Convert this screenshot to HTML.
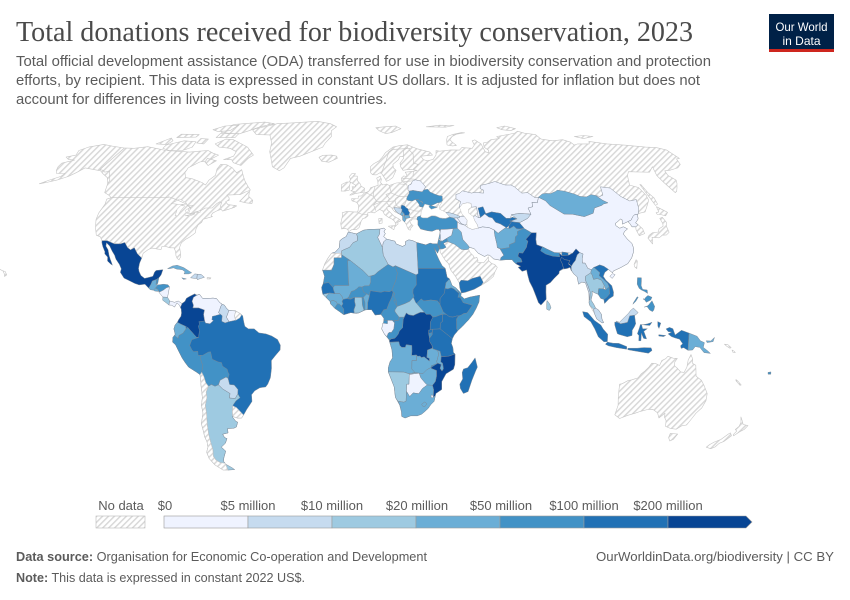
<!DOCTYPE html>
<html><head><meta charset="utf-8">
<style>html,body{margin:0;padding:0;background:#fff;}svg{display:block}</style>
</head>
<body>
<svg id="s" width="850" height="600" viewBox="0 0 850 600" xmlns="http://www.w3.org/2000/svg">
<defs>
<pattern id="h" patternUnits="userSpaceOnUse" width="4.2" height="4.2" patternTransform="rotate(45)">
<rect width="4.2" height="4.2" fill="#fff"/><rect width="1.5" height="4.2" fill="#d8d8d8"/>
</pattern>
</defs>
<rect width="850" height="600" fill="#fff"/>
<g id="map"></g>

<text x="16" y="41" font-family="Liberation Serif, serif" font-size="28" fill="#4a4a4a" textLength="677" lengthAdjust="spacingAndGlyphs">Total donations received for biodiversity conservation, 2023</text>
<g font-family="Liberation Sans, sans-serif" font-size="14.5" fill="#5b5b5b">
<text x="16" y="66" textLength="695" lengthAdjust="spacingAndGlyphs">Total official development assistance (ODA) transferred for use in biodiversity conservation and protection</text>
<text x="16" y="85" textLength="684" lengthAdjust="spacingAndGlyphs">efforts, by recipient. This data is expressed in constant US dollars. It is adjusted for inflation but does not</text>
<text x="16" y="104" textLength="371" lengthAdjust="spacingAndGlyphs">account for differences in living costs between countries.</text>
</g>

<rect x="769" y="14" width="65" height="38" fill="#002147"/>
<rect x="769" y="49" width="65" height="3" fill="#ce261e"/>
<g font-family="Liberation Sans, sans-serif" font-size="12" fill="#fff" text-anchor="middle">
<text x="801.5" y="31" textLength="52" lengthAdjust="spacingAndGlyphs">Our World</text>
<text x="801.5" y="45" textLength="38" lengthAdjust="spacingAndGlyphs">in Data</text>
</g>

<g font-family="Liberation Sans, sans-serif" font-size="13" fill="#5b5b5b" text-anchor="middle">
<text x="121" y="510">No data</text>
<text x="165" y="510">$0</text>
<text x="248" y="510">$5 million</text>
<text x="332" y="510">$10 million</text>
<text x="417" y="510">$20 million</text>
<text x="501" y="510">$50 million</text>
<text x="584" y="510">$100 million</text>
<text x="668" y="510">$200 million</text>
</g>
<rect x="96" y="516" width="49" height="12" fill="url(#h)" stroke="#bbb" stroke-width="0.6"/>
<g stroke="#9a9a9a" stroke-width="0.6">
<rect x="164" y="516" width="84" height="12" fill="#eff3ff"/>
<rect x="248" y="516" width="84" height="12" fill="#c6dbef"/>
<rect x="332" y="516" width="84" height="12" fill="#9ecae1"/>
<rect x="416" y="516" width="84" height="12" fill="#6baed6"/>
<rect x="500" y="516" width="84" height="12" fill="#4292c6"/>
<rect x="584" y="516" width="84" height="12" fill="#2171b5"/>
<polygon points="668,516 746,516 752,522 746,528 668,528" fill="#084594"/>
</g>

<g font-family="Liberation Sans, sans-serif" font-size="13" fill="#5b5b5b">
<text x="16" y="561" textLength="411" lengthAdjust="spacingAndGlyphs"><tspan font-weight="bold">Data source:</tspan> Organisation for Economic Co-operation and Development</text>
<text x="16" y="582" textLength="289" lengthAdjust="spacingAndGlyphs"><tspan font-weight="bold">Note:</tspan> This data is expressed in constant 2022 US$.</text>
<text x="834" y="561" text-anchor="end" textLength="238" lengthAdjust="spacingAndGlyphs">OurWorldinData.org/biodiversity | CC BY</text>
</g>
</svg>
<script>
(function(){
var RT=[[0,1,0],[5,.9986,.062],[10,.9954,.124],[15,.99,.186],[20,.9822,.248],[25,.973,.31],[30,.96,.372],[35,.9427,.434],[40,.9216,.4958],[45,.8962,.5571],[50,.8679,.6176],[55,.835,.6769],[60,.7986,.7346],[65,.7597,.7903],[70,.7186,.8435],[75,.6732,.8936],[80,.6213,.9394],[85,.5722,.9761],[90,.5322,1]];
function P(lon,lat){var a=Math.abs(lat);var i=Math.min(17,Math.floor(a/5));var t=(a-i*5)/5;
var X=RT[i][1]+(RT[i+1][1]-RT[i][1])*t;var Y=RT[i][2]+(RT[i+1][2]-RT[i][2])*t;
return [361.2+2.327*X*lon,326.3-212.4*Y*(lat<0?-1:1)];}
function path(pts,close){var s='';for(var i=0;i<pts.length;i++){var p=P(pts[i][0],pts[i][1]);s+=(i?'L':'M')+p[0].toFixed(1)+' '+p[1].toFixed(1);}return s+(close?'Z':'');}
var C={h:'url(#h)',c0:'#eff3ff',c1:'#c6dbef',c2:'#9ecae1',c3:'#6baed6',c4:'#4292c6',c5:'#2171b5',c6:'#084594',w:'#fff'};
var F=[
// ---------- NO DATA: North America ----------
['h',[[-166,68.5],[-163,70],[-156.5,71.3],[-150,70.5],[-141,69.6],[-135,69.5],[-128,70.2],[-120,69.2],[-115,68.5],[-108,68.2],[-100,67.8],[-95,68.2],[-90,68.5],[-86,67.3],[-82,66.5],[-86,64],[-90,63.5],[-94,61],[-94,59],[-92,57],[-88,56.5],[-82,55],[-79.5,54],[-79,56],[-77,58],[-78,60.5],[-77.5,62.5],[-74,62.3],[-70,61],[-66.5,59],[-64.5,60.3],[-62,57.5],[-60,55.5],[-57,53],[-55.7,52],[-57.5,51.4],[-60,50.2],[-66.5,50],[-65,49],[-64.5,48],[-66,47.5],[-64.5,46.3],[-61,46],[-60,45.8],[-61,45.2],[-63.5,44.5],[-66,43.8],[-67,44.5],[-69,43.8],[-70.5,43],[-70.8,42],[-70,41.7],[-71.5,41.3],[-74,40.6],[-74.2,39.5],[-75.5,38.5],[-76,37],[-75.8,35.5],[-76.6,34.8],[-78,33.8],[-79.5,33],[-81,31.7],[-81.3,30],[-80.5,28],[-80,26.5],[-80.5,25.2],[-81.5,25.8],[-82.2,26.8],[-82.8,28.5],[-83.8,29.8],[-85.5,29.8],[-88,30.4],[-89.3,30.3],[-89.4,29.2],[-91,29.3],[-93.5,29.7],[-95,29.2],[-97,27.7],[-97.2,25.9],[-99.5,27.5],[-101.5,29.8],[-103,29],[-104.6,29.9],[-106.5,31.8],[-108.2,31.3],[-111,31.3],[-114.8,32.5],[-117.1,32.5],[-118.5,34],[-120.6,34.6],[-122.5,37.5],[-124,40.5],[-124.5,43],[-124,46.5],[-124.7,48.4],[-123,49],[-125,50],[-128,51],[-130,54.5],[-133,57],[-137,58.5],[-140,59.8],[-146,60.5],[-150,61],[-152,59],[-154,57.5],[-158,56],[-162,55],[-165,54.5],[-162,56],[-158,57.5],[-157.5,58.7],[-162,58.7],[-164,60],[-165.5,61.5],[-166,63],[-161,64.3],[-165,64.6],[-168,65.6],[-164,66.5]]],
['h',[[-80,73.5],[-73,71.5],[-68,70],[-62,66.5],[-64,65],[-66,62],[-71,63.2],[-73,64.5],[-77.5,64.5],[-73,66],[-73,68],[-78,69.5],[-85,70],[-89,71.5],[-85,73.8]]],
['h',[[-118,71],[-110,73],[-102,72.5],[-101,70],[-105,68.5],[-113,68.5],[-118,69.5]]],
['h',[[-125,71.5],[-120,74.3],[-117,73],[-118,71.2]]],
['h',[[-92,77],[-80,76.2],[-75,78],[-70,80],[-62,82],[-70,83],[-90,81.5],[-94,79]]],
['h',[[-92,76.5],[-80,76.5],[-80,74.5],[-92,74.5]]],
['h',[[-101,74],[-96,73.8],[-96,71.5],[-101,72]]],
['h',[[-117,76.2],[-105,76],[-105,74.7],[-117,74.5]]],
['h',[[-100,78.5],[-95,80.5],[-86,81],[-88,78],[-95,77.5]]],
['h',[[-87,65],[-81,64],[-84,62],[-87,63.5]]],
['h',[[-59.3,47.6],[-56,51.6],[-55.5,49.5],[-53,48],[-53,46.7],[-56,47]]],
['h',[[-160,22.2],[-159.3,21.9],[-157.5,21.2],[-156,20.8],[-155,19.5],[-155.8,18.9],[-156,19.8],[-157,21]]],
// Greenland, Iceland, Svalbard
['h',[[-73,78.3],[-68,76],[-59,75.8],[-55,72],[-53.5,68],[-51,65],[-48.5,61.5],[-44,59.8],[-42,61],[-40,65],[-35,66],[-23,70],[-22,72],[-19,75],[-20,78],[-17,80],[-22,82],[-32,83.5],[-50,82.5],[-60,82],[-65,80.5],[-72,79]]],
['h',[[-24,65.5],[-22,66.4],[-17,66.5],[-14,66],[-13.5,65],[-18,63.4],[-22,63.8]]],
['h',[[10,79.5],[16,80],[24,80.4],[27,79],[20,77],[16,76.5],[12,78]]],
['h',[[45,80],[55,81],[65,80.8],[58,79.8]]],
['h',[[52,71],[55,70.6],[57.5,70.8],[56,72.5],[55.5,73.5],[58,75],[62,76.2],[68,76.9],[66,77],[59,76],[55,75],[53.5,73.5],[52.5,72]]],
['h',[[93,79.5],[100,80.5],[105,79],[100,78],[95,78.5]]],
['h',[[136,75],[143,75.5],[148,75],[140,74]]],
// Eurasia base
['h',[[-9,37],[-9.5,39],[-8.8,42],[-9,43.2],[-7,43.6],[-2,43.4],[-1.5,44],[-1.2,46],[-2.2,47.2],[-4.5,47.8],[-4.7,48.6],[-1.5,48.7],[-1.4,49.6],[0.2,49.7],[1.6,50.9],[3,51.2],[4,51.8],[4.8,53],[7,53.5],[8.6,53.9],[8.6,55.5],[8.1,56.8],[10,57.6],[10.5,56.3],[10,55],[11,54],[13,54.4],[14.3,53.8],[18,54.8],[21,55],[21,56.8],[22.5,57.7],[24,57.3],[24,58.4],[23.5,59.2],[28,59.6],[30,60],[26,60.4],[22.5,60],[21.5,61.5],[21.5,63],[24,65],[24,65.9],[22,65.8],[21,64.5],[17.5,62.5],[17.5,61],[18.8,60],[16.5,57],[14.5,56],[13,55.5],[12.5,56.5],[11,58.5],[10,59],[8,58.1],[6,58.2],[5,59],[5,61.5],[7,62.8],[10,64],[12,65.5],[14,67.5],[16,68.5],[19,70],[23,70.7],[28,71.1],[31,70],[33,69.3],[40,67.8],[41,66.5],[34,66],[35,64.5],[37,64],[40.5,64.6],[43,66.5],[44,68.5],[46,68.2],[53,68.8],[58,68.7],[60,69.8],[66,69.5],[68.5,71],[69,73],[71,73.4],[73,71.5],[72.5,68],[74,67.5],[75,68.5],[73.5,70],[75,72],[78,72.4],[81,73.5],[87,74],[86.5,75],[95,76],[101,76.8],[104,77.7],[107,76.7],[113,76],[113,73.8],[119,73],[126,73.5],[129,72.3],[129,71],[132,71.5],[139,71.5],[141,72.7],[150,71.5],[160,70.9],[170,70],[176,69.8],[180,68.8],[180,65],[178,64.8],[176,62.5],[172,61],[166,60],[163,59.8],[162,58],[163.5,56],[162,54.6],[160,53],[158,51.5],[156.7,51],[155.8,55],[156,57.8],[159,61.5],[154,59.2],[148,59.3],[143,59.4],[140.5,57.8],[137,54],[140.5,53],[141,50],[140.5,48],[138,46],[135,43.5],[132,43],[130.6,42.5],[129.7,40.8],[128.5,40],[127.5,39.3],[128.3,38.6],[129.5,37],[129.3,35.2],[126.5,34.4],[126.2,36.6],[126.7,37.8],[125,37.8],[124.8,38.8],[124.3,39.8],[121.2,38.8],[122,40.5],[121.5,40.8],[119.5,39.8],[118,39.1],[117.8,38.2],[119,37.2],[121,37.8],[122.5,37],[120.5,36],[119.5,35],[120.5,33],[121.8,31.5],[121.8,30],[121.5,28.5],[119.8,26],[117.5,23.8],[114,22.3],[110.5,21],[110,20.3],[108.5,21.6],[106.7,20.5],[105.7,19],[106.6,17.5],[108.8,15.4],[109.3,13],[109,11.5],[107,10.4],[105,8.7],[104.8,10.2],[103.5,10.6],[102.5,12.2],[100.9,12.8],[100,13.4],[100,12],[99.2,10],[100.3,8.3],[101,6.9],[102.2,6.2],[103.4,4.5],[103.5,2.8],[104.2,1.4],[103.5,1.3],[101.3,2.8],[100.3,5],[98.5,8],[98.3,9],[98.6,12.7],[97.6,16.5],[96,16.8],[94.5,16],[94.3,18.8],[93,19.9],[92,21.5],[91.8,22.4],[90.5,22],[89,21.8],[86.9,21],[86.5,20],[84.5,18.5],[82.3,16.6],[80.3,15.6],[80,13],[79.9,10.3],[78,8.5],[77.5,8.1],[76.5,9],[75.5,11.7],[74.5,14.5],[73.3,17],[72.8,19.5],[72.6,21.4],[70.5,20.9],[69,22.4],[70.2,22.8],[68.5,23.6],[67.3,24.5],[66.7,25.3],[64,25.3],[61.5,25.1],[58.6,25.6],[57,27],[56,27.1],[54.7,26.5],[52,27.8],[50.5,29.5],[48.5,30],[47.8,29.6],[48.5,28],[49.7,26.8],[50.2,25.8],[51.2,26.2],[51.6,25],[51.4,24.3],[54,24.1],[55.6,25.6],[56.4,26.4],[56.3,24.9],[57.5,23.8],[58.8,23.5],[59.8,22.4],[58.5,20.5],[57.8,19],[56.3,17.9],[55,17],[52.2,15.6],[49,14.1],[45,12.9],[43.4,12.7],[42.8,14.7],[42.7,16.5],[41.2,19],[39.2,21.5],[38.5,23.8],[37.2,25],[35.3,28],[34.9,29.5],[34.3,31.3],[35,33],[35.9,35.2],[36,36.8],[34.6,36.8],[32.5,36.1],[30.5,36.3],[29,36.6],[27.3,37],[26.3,38.5],[26.5,40.2],[26.1,40.6],[26,40.8],[24,40.8],[23.5,40.2],[22.6,40.3],[23,39],[24,38.2],[23,37.5],[22.5,36.5],[21.7,36.8],[21.2,37.8],[21,38.6],[20.2,39.6],[19.4,40.4],[19.5,41.8],[18.5,42.5],[16,43.5],[15.2,44.3],[14.5,45.2],[13.7,45.6],[12.3,45.3],[12.5,44.2],[13.6,43.5],[15.3,41.9],[18,40.6],[18.5,40.1],[17,39.5],[17.1,38.9],[16.5,38.5],[15.7,37.9],[16,39],[15.5,40],[14.3,40.8],[13,41.3],[11,42.5],[10.2,43.9],[8.8,44.4],[7.5,43.8],[6.2,43.1],[4.5,43.4],[3.1,43.1],[3.2,42],[2,41.2],[0.8,41],[0,40],[-0.5,38.5],[-1,37.5],[-2.2,36.7],[-4.4,36.7],[-5.6,36],[-6.5,36.9],[-7.5,37.2]]],
['h',[[-5,50],[-3,50.6],[1.4,51.2],[1.7,52.7],[0,53.5],[-0.5,54.5],[-2,55.8],[-2,57.6],[-4,57.7],[-3,58.6],[-5,58.6],[-6.2,57.5],[-5.6,56.3],[-6,55.3],[-4.8,54.8],[-3,54],[-3,53.3],[-4.6,53.3],[-4.2,52.2],[-5.2,51.7],[-3.3,51.4],[-5.7,50]]],
['h',[[-6,52],[-6,53.5],[-5.5,55.2],[-7.5,55.2],[-10,54.2],[-10,51.6],[-8,51.6]]],
['h',[[12.5,38],[15.6,38.3],[15,36.7]]],
['h',[[8.3,39],[9.7,39.2],[9.8,41],[8.2,40.9]]],
['h',[[130,33.5],[131,31.3],[131.5,32],[132,33.8],[135,33.6],[136,34],[137,34.6],[139,34.7],[140.8,35.7],[141,38],[142,39.5],[141.5,41.4],[140,41],[140,39],[139.5,38],[137,37],[136,35.8],[133,35.5],[131,34.5]]],
['h',[[140,42.5],[141.5,42.5],[143.5,42],[145.5,43.3],[144,44.3],[142,45.5],[141.5,43.5],[140,43.2]]],
['h',[[142,46],[143.5,46.5],[144,49],[143,51],[143,54.2],[142.5,54.2],[142,51],[142,47]]],
['h',[[120.2,22.6],[121,21.9],[121.9,24.8],[121.5,25.3],[120.2,23.5]]],
// Australia, NZ
['h',[[113.5,-22],[114,-26.5],[115,-30],[115,-33.6],[117.8,-35],[121,-33.8],[124,-33],[126,-32.3],[129,-31.6],[131.2,-31.5],[134,-32.8],[135.6,-34.8],[137.5,-33],[138,-34.5],[139.5,-35.8],[140.6,-38],[143.5,-38.8],[146.3,-39.1],[148,-37.8],[150,-37.5],[150.7,-35],[151.5,-33],[153,-31],[153.6,-28.2],[153,-25.5],[150.8,-22.6],[149,-20.5],[146.3,-19],[145.5,-16],[145.2,-14.8],[143.6,-14],[143.5,-12.5],[142.5,-10.7],[141.6,-12.8],[141.5,-15.5],[140.7,-17.5],[139.2,-17.3],[137.5,-16],[136,-15],[135.9,-13.5],[136.8,-12.2],[135,-12.1],[132.6,-11.4],[131.8,-12.3],[130.2,-13],[129.5,-14.9],[127.8,-14.2],[126,-14],[125,-15.5],[123.5,-17],[122.2,-18],[121,-19.6],[118.5,-20.3],[116.7,-20.7],[114.6,-21.8]]],
['h',[[144.7,-40.7],[148.3,-40.9],[148,-43],[146.8,-43.6],[145.2,-42.3]]],
['h',[[172.7,-34.4],[174.5,-36],[175.9,-37.3],[178.5,-37.7],[177.9,-39.2],[176.8,-39.9],[175.2,-41.6],[174.6,-41.2],[175,-39.8],[173.8,-39.2],[174.6,-38],[174.3,-36.5]]],
['h',[[172.7,-40.5],[174.2,-41.6],[173.3,-43],[172.7,-43.8],[171.2,-44.5],[170.7,-45.9],[169.3,-46.6],[166.5,-46],[167,-45],[168.4,-44],[170.6,-43],[171.5,-41.8],[172.1,-40.9]]],
['h',[[164,-20.2],[165,-20.8],[167,-22.3],[166.5,-22.4],[164.2,-20.7]]],
['h',[[156.5,-6.8],[157.5,-7.5],[159,-8.3],[159.5,-8.1],[158,-7]]],
['h',[[160,-9],[161,-9.5],[161.5,-10],[160.5,-9.9]]],
// ---------- AFRICA ----------
['c4',[[-5.9,35.8],[-2.2,35.1],[1,36.5],[3.5,36.8],[8.6,36.9],[10.3,37.3],[11.1,36.8],[10.4,36],[11,35.2],[10.2,34.1],[11.5,33.1],[15.2,32.3],[15.7,31.3],[18.5,30.3],[20,31],[20,32.2],[21.5,32.8],[23,32.6],[25,31.8],[29,30.9],[31,31.6],[32.3,31.3],[34.2,31.3],[34.9,29.5],[34,27.8],[32.6,29.9],[33.5,27.2],[34.5,25],[35.6,23],[36.9,22],[37.5,18.6],[38.5,18],[39.5,15.5],[41.2,14.5],[43.3,12.5],[43.1,11.5],[44.5,10.4],[47,11.1],[51.2,11.8],[51,10.5],[50.8,9.2],[49.5,6.8],[48,4.5],[46,2.3],[43.5,0],[41.5,-1.7],[40,-3.3],[39.2,-4.7],[38.8,-6.5],[39.5,-8],[39.8,-10],[40.5,-10.5],[40.6,-14.5],[40.1,-16.3],[37,-18],[35.3,-21],[35.5,-24],[33,-25.5],[32.8,-26.5],[32.5,-28.5],[31,-29.9],[30,-31.3],[27.5,-33.3],[25.5,-34],[22.5,-34],[20,-34.8],[18.4,-34.2],[18.2,-32.5],[17.3,-30],[15.2,-27],[14.5,-23],[13.5,-20.9],[11.8,-17.3],[11.8,-15.8],[12.5,-13.5],[13.6,-12],[13.3,-9],[12.3,-6.1],[12.2,-5.8],[11.9,-5],[10,-3],[8.8,-1],[9.5,1],[9.8,3],[8.5,4.5],[6,4.3],[4.5,6.3],[2,6.3],[-1,5.1],[-2.2,4.9],[-4.5,5.2],[-7.5,4.4],[-9.5,5.7],[-11.5,6.9],[-13.2,8.5],[-13.5,9.5],[-15,10.8],[-16.6,12.2],[-17.2,14.7],[-16.5,16.3],[-16,19],[-16.9,21.3],[-16,23.8],[-14.6,26],[-13.2,27.7],[-11.5,28.2],[-9.8,29.9],[-9.6,32.5],[-8.5,33.3],[-6.8,34.1]]],
['c1',[[-5.9,35.8],[-2.2,35.1],[-1.7,34.1],[-1.7,32.5],[-3.7,31.7],[-5.2,30],[-8.7,28.7],[-8.7,27.7],[-13.2,27.7],[-11.5,28.2],[-9.8,29.9],[-9.6,32.5],[-8.5,33.3],[-6.8,34.1]]],
['h',[[-13.2,27.7],[-8.7,27.7],[-8.7,26],[-12,26],[-12,23.5],[-13,21.3],[-17,21.3],[-16,23.8],[-14.6,26]]],
['c2',[[-2.2,35.1],[1,36.5],[3.5,36.8],[8.6,36.9],[8.4,35],[7.5,33.8],[9.5,30],[9.8,27],[11.9,23.5],[7.5,20.8],[5.8,19.5],[4.2,19.1],[3.2,19],[1,21],[-4.8,25],[-8.7,27.2],[-8.7,28.7],[-5.2,30],[-3.7,31.7],[-1.7,32.5],[-1.7,34.1]]],
['c0',[[8.6,36.9],[10.3,37.3],[11.1,36.8],[10.4,36],[11,35.2],[10.2,34.1],[11.5,33.1],[10,32],[9.5,30],[7.5,33.8],[8.4,35]]],
['c1',[[11.5,33.1],[15.2,32.3],[15.7,31.3],[18.5,30.3],[20,31],[20,32.2],[21.5,32.8],[23,32.6],[25,31.8],[25,22],[25,20],[24,19.5],[15,23],[14,22.5],[11.9,23.5],[9.8,27],[9.5,30],[10,32]]],
['c4',[[25,31.8],[29,30.9],[31,31.6],[32.3,31.3],[34.2,31.3],[34.9,29.5],[34,27.8],[32.6,29.9],[33.5,27.2],[34.5,25],[35.6,23],[36.9,22],[25,22]]],
['c4',[[-17,21.3],[-13,21.3],[-12,23.5],[-12,26],[-8.7,26],[-8.7,27.2],[-4.8,25],[-6,25],[-5.5,16.5],[-5.3,15.5],[-11.5,15.5],[-12.2,14.7],[-14.2,16.6],[-16.5,16.3],[-16,19],[-16.9,21.3]]],
['c3',[[-12.2,14.7],[-11.5,15.5],[-5.3,15.5],[-5.5,16.5],[-6,25],[-4.8,25],[1,21],[3.2,19],[4.2,19.1],[4.2,16.8],[3.5,15.4],[1.3,15.3],[0.3,14.9],[-1,15],[-2,14.2],[-3,13.6],[-4.3,13.2],[-5.3,11.2],[-6.2,10.5],[-7.8,10.2],[-8.3,11.3],[-9.3,12.4],[-11.4,12.4],[-12,13.8]]],
['c4',[[4.2,19.1],[5.8,19.5],[7.5,20.8],[11.9,23.5],[14,22.5],[15,23],[15.5,21],[15.9,20.4],[15.3,17.9],[13.7,14.5],[13.3,13.6],[12.3,13.1],[10,13.3],[8.6,12.9],[7,13.1],[4,13.5],[3.6,11.7],[2.4,12.3],[1,13],[0.3,14.9],[1.3,15.3],[3.5,15.4],[4.2,16.8]]],
['c4',[[15,23],[24,19.5],[24,15.7],[22.5,14],[22.4,12.6],[22.9,11.4],[22.5,11],[21,9.5],[18.9,8.6],[15.5,7.5],[15,9.9],[14,11],[14.5,12.5],[13.3,13.6],[13.7,14.5],[15.3,17.9],[15.9,20.4],[15.5,21]]],
['c5',[[24,19.5],[25,20],[25,22],[36.9,22],[37.5,18.6],[38.5,18],[36.9,16.5],[36.4,14.4],[36.1,12.7],[35,11.5],[34.1,10.5],[34,8.3],[32.9,9.7],[30,10],[27,9.6],[25.9,10.4],[23.9,8.7],[23.5,9],[22.5,11],[22.9,11.4],[22.4,12.6],[22.5,14],[24,15.7]]],
['c4',[[24,8.7],[25.9,10.4],[27,9.6],[30,10],[32.9,9.7],[34,8.3],[35.3,5.5],[33.9,4.3],[32,3.6],[30.8,3.5],[29.7,4.6],[28,4.5],[27.2,5.3],[25.4,5.3],[23.5,6.7]]],
['c3',[[36.4,14.4],[36.9,16.5],[38.5,18],[39.5,15.5],[41.2,14.5],[42.4,12.5],[41.2,13.4],[40.2,14.2],[39,14.6],[37.5,14.2]]],
['c5',[[36.4,14.4],[37.5,14.2],[39,14.6],[40.2,14.2],[41.2,13.4],[42.4,12.5],[41.8,11],[42.8,11],[44,9],[48,8],[45.5,5],[44,4.8],[43,4.2],[41.9,3.9],[41,3.9],[39.5,3.5],[38,3.6],[36.8,4.4],[35.3,5.5],[34,8.3],[34.1,10.5],[35,11.5],[36.1,12.7]]],
['c4',[[42.8,11],[43.5,11.3],[44.5,10.4],[47,11.1],[51.2,11.8],[51,10.5],[50.8,9.2],[49.5,6.8],[48,4.5],[46,2.3],[43.5,0],[41.5,-1.7],[41,-0.9],[41,2.8],[41.9,3.9],[43,4.2],[44,4.8],[45.5,5],[48,8],[44,9]]],
['c5',[[41,3.9],[41.9,3.9],[41,2.8],[41,-0.9],[41.5,-1.7],[40,-3.3],[39.2,-4.7],[37.7,-3.6],[33.9,-1],[34,1.2],[35,1.9],[35,4.5],[35.9,4.6],[36.8,4.4],[38,3.6],[39.5,3.5]]],
['c5',[[29.6,-1.4],[33.9,-1],[34,1.2],[35,1.9],[35,4.5],[33.9,4.3],[32,3.6],[30.8,3.5],[29.7,1.6]]],
['c5',[[33.9,-1],[37.7,-3.6],[39.2,-4.7],[38.8,-6.5],[39.5,-8],[39.8,-10],[40.5,-10.5],[38,-11.3],[36,-11.5],[34.6,-11.5],[34,-9.5],[33,-9.2],[31,-8.6],[30.5,-7.3],[29.5,-5.9],[29.4,-4.5],[30.5,-3.2],[30.7,-1.1]]],
['c5',[[29,-1.4],[30.7,-1.1],[30.5,-2.4],[29,-2.8]]],
['c4',[[29,-2.8],[30.5,-2.4],[30.5,-3.2],[29.4,-4.5]]],
['c6',[[12.2,-6],[16.2,-5.9],[16.6,-7.3],[17.5,-8],[19,-8],[19.4,-7],[21.8,-7.3],[21.9,-9.6],[21.8,-11],[22.4,-11],[23.9,-10.9],[24.4,-11.4],[25.4,-11.3],[26,-11.9],[27.2,-11.6],[28.2,-12.3],[29.2,-13],[29.6,-13.2],[29.5,-12.2],[28.4,-11.8],[28.6,-9],[30.7,-8.3],[30.5,-7.3],[29.5,-5.9],[29.4,-4.5],[29,-2.8],[29,-1.4],[29.6,-1.4],[29.7,1.6],[30.8,3.5],[29.7,4.6],[28,4.5],[27.2,5.3],[25.4,5.3],[23.5,4.6],[22.4,4.1],[20.5,4.4],[19.4,5.1],[18.5,3.5],[18,2.5],[17.8,-0.5],[16.4,-1.8],[15.9,-3],[14.5,-4.5],[13.1,-4.7],[12.3,-5.2]]],
['c4',[[11.1,-3.9],[11.9,-5],[13.1,-4.7],[14.5,-4.5],[15.9,-3],[16.4,-1.8],[17.8,-0.5],[18,2.5],[18.5,3.5],[16.6,3.5],[16,2.2],[14.5,2.2],[14.3,1.3],[14,-1],[13,-2.3],[12,-2.3],[11.5,-2.8]]],
['c0',[[9.3,1.2],[11.3,1],[11.3,2.3],[13.3,2.3],[14.3,1.3],[14,-1],[13,-2.3],[12,-2.3],[11.5,-2.8],[11.1,-3.9],[10,-3],[8.8,-1]]],
['c4',[[8.5,4.5],[9.8,3],[9.8,2.3],[16,2.2],[16.3,3.5],[14.6,5.5],[14.5,6.2],[15.5,7.5],[14,9.8],[15,10],[14,11.5],[14.5,12.5],[13.8,13],[13.2,11],[12,8.8],[11,6.5],[9.7,6.3],[8.7,4.9]]],
['c2',[[14.5,6.2],[14.6,5.5],[16.3,3.5],[18.5,3.5],[19.4,5.1],[20.5,4.4],[22.4,4.1],[23.5,4.6],[25.4,5.3],[27.2,5.3],[25.5,7],[23.9,8.7],[23.5,9],[22.5,11],[21,9.5],[18.9,8.6],[15.5,7.5]]],
['c5',[[2.7,6.3],[4.5,6.3],[6,4.3],[8.5,4.5],[8.7,4.9],[9.7,6.3],[11,6.5],[12,8.8],[13.2,11],[13.8,13],[13.3,13.6],[12.3,13.1],[10,13.3],[8.6,12.9],[7,13.1],[4,13.5],[3.6,11.7],[2.8,9]]],
['c3',[[1.6,6.2],[2.7,6.3],[2.8,9],[3.6,11.7],[2.4,12.3],[0.9,11],[1.6,9]]],
['c4',[[1.2,6.1],[1.6,6.2],[1.6,9],[0.9,11],[0.3,11],[0.5,8]]],
['c2',[[-3,5],[-1,5.1],[1.2,6.1],[0.5,8],[0.3,11],[-2.8,11],[-2.9,9.5],[-2.5,8],[-3.2,6.2]]],
['c5',[[-7.5,4.4],[-4.5,5.2],[-3,5],[-3.2,6.2],[-2.5,8],[-2.9,9.5],[-2.8,11],[-4.5,10.3],[-5.5,10.4],[-6.2,10.5],[-7.8,10.2],[-8.3,9.5],[-7.9,8.5],[-8.5,7.7],[-7.5,6.5]]],
['c4',[[-5.5,10.4],[-2.8,11],[0.3,11],[0.9,11],[2.4,12.3],[1,13],[0.3,14.9],[-1,15],[-2,14.2],[-3,13.6],[-4.3,13.2],[-5.3,11.2]]],
['c4',[[-11.5,6.9],[-9.5,5.7],[-7.5,4.4],[-7.5,6.5],[-8.5,7.7],[-9.5,8.5],[-10.3,8.5]]],
['c3',[[-13.2,8.5],[-11.5,6.9],[-10.3,8.5],[-10.7,9.3],[-12.2,9.9],[-13.3,9.5]]],
['c3',[[-15,10.8],[-13.5,9.5],[-13.3,9.5],[-12.2,9.9],[-10.7,9.3],[-10.3,8.5],[-9.5,8.5],[-8.5,7.7],[-7.9,8.5],[-8.3,9.5],[-7.8,10.2],[-8.3,11.3],[-9.3,12.4],[-11.4,12.4],[-13.7,12.7],[-15,11.5]]],
['c2',[[-16.6,12.2],[-15,10.8],[-15,11.5],[-13.7,12.7]]],
['c5',[[-17.2,14.7],[-16.6,12.2],[-13.7,12.7],[-11.4,12.4],[-12,13.8],[-12.2,14.7],[-14.2,16.6],[-16.5,16.3]]],
['c3',[[11.8,-17.3],[13.5,-17.3],[18.5,-17.4],[20.8,-18],[23.5,-17.6],[22,-16.2],[22,-13],[24,-13],[23.9,-10.9],[22.4,-11],[21.8,-11],[21.9,-9.6],[21.8,-7.3],[19.4,-7],[19,-8],[17.5,-8],[16.6,-7.3],[16.2,-5.9],[12.3,-6.1],[13.3,-9],[13.6,-12],[12.5,-13.5],[11.8,-15.8]]],
['c3',[[22,-13],[22,-16.2],[23.5,-17.6],[25.3,-17.8],[27,-17.9],[28.5,-16.5],[30.4,-15.6],[30.4,-15],[33.2,-14],[32.7,-13.6],[33.5,-10.6],[33,-9.2],[31,-8.6],[30.7,-8.3],[28.6,-9],[28.4,-11.8],[29.5,-12.2],[29.6,-13.2],[29.2,-13],[28.2,-12.3],[27.2,-11.6],[26,-11.9],[25.4,-11.3],[24.4,-11.4],[23.9,-10.9],[24,-13]]],
['c3',[[33,-9.2],[34,-9.5],[34.6,-11.5],[34.5,-13.5],[35.3,-14],[35.8,-16.1],[35.2,-17],[34.3,-16],[34.7,-14.5],[33.2,-14],[32.7,-13.6],[33.5,-10.6]]],
['c6',[[40.5,-10.5],[40.6,-14.5],[40.1,-16.3],[37,-18],[35.3,-21],[35.5,-24],[33,-25.5],[32.8,-26.5],[32,-26.8],[31.9,-24],[31.3,-22.4],[32.5,-21],[32.9,-19],[32.8,-16.8],[30.4,-16],[30.4,-15.6],[33.2,-14],[34.7,-14.5],[34.3,-16],[35.2,-17],[35.8,-16.1],[35.3,-14],[34.5,-13.5],[34.6,-11.5],[36,-11.5],[38,-11.3]]],
['c3',[[25.3,-17.8],[27,-17.9],[28.5,-16.5],[30.4,-15.6],[30.4,-16],[32.8,-16.8],[32.9,-19],[32.5,-21],[31.3,-22.4],[29,-22.3],[28,-21.5],[26,-19.5]]],
['c2',[[11.8,-17.3],[13.5,-17.3],[18.5,-17.4],[20.8,-18],[23.5,-17.6],[25.3,-17.8],[23.3,-18],[21,-18.3],[21,-22],[20,-22],[20,-24.7],[20,-28.4],[19,-28.8],[17,-28.5],[16.5,-28.6],[15.2,-27],[14.5,-23],[13.5,-20.9]]],
['c0',[[20,-22],[21,-22],[21,-18.3],[23.3,-18],[25.3,-17.8],[26,-19.5],[28,-21.5],[29,-22.3],[27,-23.6],[25.5,-25.6],[23,-25.3],[21.5,-26.7],[20,-24.7]]],
['c3',[[16.5,-28.6],[17,-28.5],[19,-28.8],[20,-28.4],[20,-24.7],[21.5,-26.7],[23,-25.3],[25.5,-25.6],[27,-23.6],[29,-22.3],[31.3,-22.4],[31.9,-24],[32,-26.8],[32.8,-26.5],[32.5,-28.5],[31,-29.9],[30,-31.3],[27.5,-33.3],[25.5,-34],[22.5,-34],[20,-34.8],[18.4,-34.2],[18.2,-32.5],[17.3,-30]]],
['c3',[[27,-29.6],[28.3,-28.7],[29.4,-29.4],[28.5,-30.5],[27.5,-30.3]]],
['c0',[[31,-26],[32,-26.3],[31.9,-27.2],[31,-27]]],
['c5',[[49.3,-12],[50.5,-15.5],[49.8,-17],[48.5,-20.5],[47.2,-24.8],[45.2,-25.5],[43.7,-23.6],[43.3,-22],[44.4,-20],[44,-17.5],[44.5,-16.2],[46.3,-15.7],[48,-13.7]]],
// ---------- SOUTH AMERICA ----------
['c5',[[-77.9,7.2],[-77.3,8.6],[-76,9.5],[-75.5,10.6],[-74.2,11.3],[-72,12.3],[-71,11.8],[-70,12.2],[-68.5,10.6],[-66,10.6],[-64,10.7],[-62.5,10.5],[-61,9],[-60,8.4],[-59,8],[-58,6.8],[-57,6],[-55,5.9],[-54,5.8],[-52,4.8],[-51,4],[-50.5,1.8],[-50,0],[-48.5,-1],[-46,-1],[-44,-2.5],[-41,-2.9],[-38.5,-3.7],[-36,-5],[-34.8,-7.2],[-35,-9],[-37,-11],[-38.9,-13],[-39,-16],[-39.7,-19.5],[-41,-21.9],[-42,-23],[-44.6,-23.3],[-47,-24.5],[-48.6,-26],[-48.7,-28.5],[-50,-30],[-51.5,-31.5],[-53.4,-33.7],[-54.5,-34.8],[-56.5,-34.8],[-57.8,-34.4],[-58.4,-33.9],[-58.5,-34.5],[-57.5,-36],[-56.7,-36.4],[-57.7,-38.2],[-59,-38.7],[-62,-38.8],[-62.3,-40.5],[-65,-41],[-64.5,-42.3],[-63.5,-42.7],[-65,-44.5],[-67.5,-46],[-66,-47.5],[-68,-50],[-69,-51.5],[-68.5,-52.3],[-71,-53],[-74,-53],[-75.5,-50.5],[-75.5,-48],[-74,-46],[-73.5,-44],[-73.8,-42],[-73.5,-39.5],[-73.5,-37],[-72.5,-35],[-71.6,-33],[-71.5,-30],[-70.5,-27],[-70.4,-23],[-70.3,-18.4],[-71.4,-17.6],[-75,-15.5],[-76.3,-13.8],[-77.5,-12],[-79,-9],[-80,-7],[-81.2,-6],[-81,-4.2],[-80,-3],[-80.5,-1],[-80,0.5],[-79,1.5],[-78.5,2.5],[-77.5,3.8],[-77.3,5],[-77.5,6.5]]],
['c6',[[-77.9,7.2],[-77.3,8.6],[-76,9.5],[-75.5,10.6],[-74.2,11.3],[-72,12.3],[-71.3,11.5],[-72.5,11],[-73,9.5],[-72.3,8],[-72.5,7],[-70,7],[-67.5,6.2],[-67.8,4.5],[-67.3,2],[-69.8,1.8],[-69.5,0.8],[-70,0],[-69.5,-1.5],[-70,-4.2],[-70.8,-4.2],[-72.5,-2.5],[-74.5,-0.5],[-75.5,0],[-77.5,0.8],[-78.8,1.4],[-79,1.5],[-78.5,2.5],[-77.5,3.8],[-77.3,5],[-77.5,6.5]]],
['c0',[[-71.3,11.7],[-70,12.2],[-68.5,10.6],[-66,10.6],[-64,10.7],[-62.5,10.5],[-61,9],[-60,8.4],[-60.6,7.4],[-61,6],[-61.4,5.2],[-60.6,4.6],[-62.9,4],[-64,3.8],[-64.2,2.5],[-63.5,2.2],[-65,1],[-66.9,1.2],[-67.3,2],[-67.8,4.5],[-67.5,6.2],[-70,7],[-72.5,7],[-72.3,8],[-73,9.5],[-72.5,11]]],
['c1',[[-60,8.4],[-59,8],[-58,6.8],[-57,6],[-57.5,4.5],[-58,3.5],[-56.8,1.8],[-58.5,1.3],[-60,1.9],[-59.8,4],[-60.6,4.6],[-61.4,5.2],[-61,6],[-60.6,7.4]]],
['c0',[[-57,6],[-55,5.9],[-54,5.8],[-54.5,4],[-54,2.3],[-55.5,2],[-56.8,1.8],[-58,3.5],[-57.5,4.5]]],
['h',[[-54,5.8],[-52,4.8],[-51.6,4.2],[-52.3,3.2],[-54,2.3],[-54.5,4]]],
['c3',[[-78.8,1.4],[-77.5,0.8],[-75.5,0],[-75.3,-1],[-76.6,-2.6],[-78.4,-3.5],[-78.7,-4.6],[-80.3,-4.4],[-80,-3],[-80.5,-1],[-80,0.5],[-79,1.5]]],
['c4',[[-80.3,-3.5],[-78.7,-4.6],[-78.4,-3.5],[-76.6,-2.6],[-75.3,-1],[-74.5,-0.5],[-72.5,-2.5],[-70.8,-4.2],[-70,-4.2],[-72.9,-5.1],[-73.9,-7.3],[-73,-9],[-72.3,-9.6],[-70.5,-9.5],[-70.5,-11],[-69,-11],[-69.4,-13],[-68.7,-15],[-69.5,-17.5],[-70.3,-18.4],[-71.4,-17.6],[-75,-15.5],[-76.3,-13.8],[-77.5,-12],[-79,-9],[-80,-7],[-81.2,-6],[-81,-4.2]]],
['c4',[[-69.6,-11],[-68.5,-11],[-66,-9.8],[-65,-9.7],[-64.5,-12.5],[-62,-13.5],[-60.5,-13.8],[-60.2,-15.1],[-58.3,-16.3],[-58,-17.5],[-57.6,-18.2],[-58.2,-19.8],[-59.1,-19.3],[-61.8,-20.5],[-62.7,-22.2],[-64.3,-22.8],[-65.8,-22.1],[-67.2,-22.8],[-68.2,-21.5],[-68.8,-19],[-69.5,-17.5],[-68.7,-15],[-69.4,-13]]],
['c2',[[-67.2,-22.8],[-65.8,-22.1],[-64.3,-22.8],[-62.7,-22.2],[-61,-23.8],[-58,-25.5],[-58.6,-27.2],[-56,-27.4],[-54.6,-25.6],[-53.8,-27.1],[-55.8,-28.3],[-57.6,-30.2],[-58.2,-32.5],[-58.4,-33.9],[-58.5,-34.5],[-57.5,-36],[-56.7,-36.4],[-57.7,-38.2],[-59,-38.7],[-62,-38.8],[-62.3,-40.5],[-65,-41],[-64.5,-42.3],[-63.5,-42.7],[-65,-44.5],[-67.5,-46],[-66,-47.5],[-68,-50],[-69,-51.5],[-68.5,-52.3],[-71,-52],[-72.5,-51],[-73,-49.5],[-72,-47],[-71.8,-44],[-71.5,-41],[-71,-38],[-70.5,-35.5],[-70,-33],[-69.8,-30],[-68.5,-27],[-68.5,-25]]],
['c2',[[-68.6,-52.6],[-66,-54],[-65,-54.8],[-68.6,-55]]],
['c1',[[-58.2,-19.8],[-57.8,-22.1],[-55.8,-22.3],[-54.3,-24],[-54.6,-25.6],[-56,-27.4],[-58.6,-27.2],[-58,-25.5],[-61,-23.8],[-62.7,-22.2],[-61.8,-20.5],[-59.1,-19.3]]],
['h',[[-70.3,-18.4],[-69.5,-17.5],[-68.8,-19],[-68.2,-21.5],[-67.2,-22.8],[-68.5,-25],[-68.5,-27],[-69.8,-30],[-70,-33],[-70.5,-35.5],[-71,-38],[-71.5,-41],[-71.8,-44],[-72,-47],[-73,-49.5],[-72.5,-51],[-71,-52],[-68.5,-52.3],[-68.6,-55],[-71,-55],[-74,-53],[-75.5,-50.5],[-75.5,-48],[-74,-46],[-73.5,-44],[-73.8,-42],[-73.5,-39.5],[-73.5,-37],[-72.5,-35],[-71.6,-33],[-71.5,-30],[-70.5,-27],[-70.4,-23]]],
['h',[[-58.4,-33.9],[-58.2,-32.5],[-57.6,-30.2],[-56,-30.9],[-53.4,-33.7],[-54.5,-34.8],[-56.5,-34.8],[-57.8,-34.4]]],
// ---------- CENTRAL AMERICA ----------
['c6',[[-117.1,32.5],[-114.8,32.5],[-111,31.3],[-108.2,31.3],[-106.5,31.8],[-104.6,29.9],[-103,29],[-101.5,29.8],[-99.5,27.5],[-97.2,25.9],[-97.7,24],[-97.8,22],[-97.3,20.8],[-96.3,19.3],[-95,18.5],[-94.5,18.2],[-92.5,18.6],[-91,19],[-90.5,20.5],[-90,21.2],[-87,21.5],[-87.5,19.5],[-88.3,18.4],[-89.2,17.8],[-91,17.2],[-91.4,16],[-92.2,14.5],[-94,16],[-96.5,15.7],[-98.5,16.3],[-101,17.3],[-103.5,18.3],[-105.5,20.5],[-105.3,21.8],[-106.5,23.5],[-108.5,25.5],[-109.5,27],[-111,28.5],[-112.8,30.5],[-114.7,31.7],[-114.5,30.5],[-113,29],[-112,27],[-111,25.5],[-110,24],[-109.5,23.2],[-110.3,23.6],[-112,24.8],[-112.4,26.3],[-114,27.5],[-114.2,28.3],[-115.8,30.3],[-116.8,31.7]]],
['c3',[[-92.2,14.5],[-91.4,16],[-91,17.2],[-89.2,17.8],[-89.2,15.9],[-88.2,15.7],[-89.3,14.5],[-90,13.7],[-91.5,13.9]]],
['c4',[[-88.3,18.4],[-89.2,17.8],[-89.2,15.9],[-88.5,16.2]]],
['c4',[[-88.2,15.7],[-86,16],[-84,15.8],[-83.2,15],[-84.5,14.6],[-85.7,13.8],[-86.7,13.3],[-87.5,13],[-88,13.9],[-89.3,14.5]]],
['c3',[[-90,13.7],[-89.3,14.5],[-88,13.9],[-87.8,13.2],[-89.5,13.4]]],
['c0',[[-87.5,13],[-86.7,13.3],[-85.7,13.8],[-84.5,14.6],[-83.2,15],[-83.5,12.5],[-83.7,11],[-85.7,11.1],[-87.6,12.9]]],
['c2',[[-85.7,11.1],[-83.7,11],[-82.6,9.6],[-82.9,8.1],[-83.7,8.6],[-85.7,9.9]]],
['c0',[[-82.9,8.1],[-82.6,9.6],[-80.5,9.1],[-79,9.6],[-77.3,8.6],[-77.9,7.2],[-78.4,8],[-79.5,8.9],[-80.4,7.3],[-81.7,8]]],
['c3',[[-85,21.9],[-83,22.9],[-81,23.2],[-78,22.3],[-75.7,21.1],[-74.2,20.3],[-75.5,19.9],[-77.5,19.9],[-77.2,20.7],[-78.5,21.5],[-81,21.7],[-82.5,22.2],[-84,21.9]]],
['c1',[[-74.5,18.4],[-72.8,19.9],[-71.7,19.8],[-71.7,18.2],[-72.5,18.2]]],
['c1',[[-71.7,19.8],[-70,19.7],[-68.4,18.6],[-70,18.2],[-71.4,17.7],[-71.7,18.2]]],
['c3',[[-78.3,18.4],[-76.3,18],[-77.5,17.8]]],
['h',[[-67.2,18.5],[-65.6,18.4],[-65.8,18],[-67.2,18]]],
// ---------- EUROPE / ASIA colored ----------
['c4',[[22.2,48.4],[22.8,49.5],[24,50.8],[24,51.6],[26,51.9],[28,51.6],[30.5,51.3],[31.5,52.1],[33.5,52.3],[34.5,51.2],[36.5,50.4],[38,49.9],[40,49.6],[39.7,47.8],[38.3,47.1],[37,47],[35,46.3],[33.5,46],[35,45.6],[36.5,45.3],[35.5,45],[33.6,44.4],[32.5,45.4],[33,46],[30.8,46.5],[29.7,45.3],[28.2,45.5],[29,46.5],[30,47.2],[28,48.2],[26.6,48.3],[24.9,47.7],[22.9,47.9]]],
['c4',[[26.6,48.3],[28,48.2],[30,46.9],[28.2,45.5],[28,46.5]]],
['c0',[[23.5,52],[24,53.8],[25.5,54.3],[26.6,55.7],[28.2,56.1],[30.8,55.6],[32.7,53.3],[31.5,52.1],[30.5,51.3],[28,51.6],[26,51.9],[24,51.6]]],
['c5',[[19,44.9],[19.5,46.1],[20.8,45.9],[21.4,45.2],[22.5,44.6],[22.4,44],[23,43.2],[22.5,42.3],[21.5,42.2],[20.5,42.2],[20.3,43],[19.3,43.6],[19.5,44.5]]],
['c1',[[15.8,45.2],[19,44.9],[19.5,44.5],[19.3,43.6],[18.5,42.5],[17,43.3],[15.8,44.7]]],
['c3',[[18.5,42.5],[19.3,43.6],[20.3,43],[19.5,41.9]]],
['c3',[[19.5,41.9],[20.5,42.2],[20.6,41],[21,40.6],[20.2,39.6],[19.4,40.4]]],
['c3',[[20.5,42.2],[21.5,42.2],[22.5,42.3],[23,41.3],[21,40.9],[20.6,41]]],
['c4',[[26,40.6],[26.5,41.6],[28,42],[31,41.1],[33.5,42],[35.5,41.7],[38,40.9],[40,41],[41.6,41.5],[43.5,41.1],[44.8,39.7],[44.3,37.2],[42.5,37.1],[40,36.9],[38,36.8],[36.6,36.8],[36,36.2],[35.8,36.8],[34.6,36.8],[32.5,36.1],[30.5,36.3],[29,36.6],[27.3,37],[26.3,38.5],[26.5,40.2]]],
['c1',[[40,43.4],[42,43.2],[44,42.7],[46.5,41.8],[46,41.2],[43.5,41.1],[41.6,41.5]]],
['c0',[[43.5,41.1],[45,41.2],[46.5,39],[46,38.9],[44.8,39.7]]],
['c0',[[46,41.2],[46.5,41.8],[48.5,41.8],[49.5,40.3],[49,38.8],[48,38.4],[46.5,39],[45,41.2]]],
['c0',[[35.9,35.2],[36.6,36.8],[38,36.8],[40,36.9],[42.4,37.1],[41.2,34.5],[38.8,33.4],[36.5,32.3],[35.8,32.7],[36,34.6]]],
['c3',[[35.1,33.1],[35.9,35.2],[36,34.6],[35.8,33.3]]],
['c3',[[42.4,37.1],[44.8,37.2],[45.8,35.8],[46,33],[47.8,31],[48.5,30],[47.7,29.2],[46.5,29.1],[44.7,29.2],[42,31.1],[39,32.2],[38.8,33.4],[41.2,34.5]]],
['c4',[[35,29.4],[35.5,32.4],[36.5,32.3],[38.8,33.4],[39,32.2],[37,31.5],[38,30],[36.5,29.4]]],
['c4',[[34.3,31.3],[35.1,33.1],[35.6,32.6],[35.5,31.5],[35,29.5]]],
['c0',[[44.3,37.2],[44.8,39.7],[46,38.9],[48,38.4],[49,37.6],[51,36.8],[53.9,37.3],[56,37.8],[59,37.5],[61,36.6],[60.8,34.4],[61,31.5],[62,29.5],[63.3,27],[61.8,26],[61.5,25.1],[58.6,25.6],[57,27],[56,27.1],[54.7,26.5],[52,27.8],[50.5,29.5],[48.5,30],[47.8,31],[46,33],[45.8,35.8]]],
['c5',[[42.8,14.7],[42.7,16.5],[43.5,17.5],[46.5,17.3],[48.5,18.2],[52,19],[53.1,16.7],[52.2,15.6],[49,14.1],[45,12.9],[43.4,12.7]]],
['c0',[[73.5,39.4],[74,39.5],[78,41],[80.3,42.6],[80,45],[82.5,45.5],[83,47.2],[85.5,47],[87.3,49.2],[90,47.8],[91,46],[92.5,45],[96,42.7],[100,42.6],[105,41.7],[110,43],[111.8,45],[116,46],[117.4,46.6],[119.8,47],[118,48],[116,49.8],[117.8,49.5],[119.7,50],[121.5,53.3],[126,52.8],[128,49.5],[131,47.7],[134.7,48.3],[133,45],[131.3,42.9],[130.6,42.5],[129.4,42.5],[128,41.8],[126,40.3],[124.3,39.8],[121.2,38.8],[122,40.5],[121.5,40.8],[119.5,39.8],[118,39.1],[117.8,38.2],[119,37.2],[121,37.8],[122.5,37],[120.5,36],[119.5,35],[120.5,33],[121.8,31.5],[121.8,30],[121.5,28.5],[119.8,26],[117.5,23.8],[114,22.3],[110.5,21],[110,20.3],[108.5,21.6],[106.7,22.8],[105,23.3],[103,22.6],[101.7,22],[101,21.5],[99.5,22],[98.7,24],[97.5,24],[97.8,25.7],[98.6,27.5],[97.3,28],[96,29.4],[94,27.7],[92,27.9],[89.5,28.2],[88.1,27.9],[86,28],[83,29.3],[81.2,30.2],[78.8,31],[79,33],[80,35.5],[77.8,35.5],[75.8,36.7],[74.8,37.2],[75,37.3]]],
['c0',[[108.6,19],[110,20],[111,19.6],[109.5,18.2]]],
['c0',[[124.3,39.8],[126,40.3],[128,41.8],[129.4,42.5],[130.6,42.5],[129.7,40.8],[128.5,40],[127.5,39.3],[128.3,38.6],[126.7,37.8],[125,37.8],[124.8,38.8]]],
['c3',[[87.3,49.2],[90,50.5],[92,50.7],[94.3,50.6],[97.5,51.5],[98.5,52],[102,51.5],[106,50.4],[108,49.5],[111,49.3],[114,50.2],[116,49.8],[118,48],[119.8,47],[117.4,46.6],[116,46],[111.8,45],[110,43],[105,41.7],[100,42.6],[96,42.7],[92.5,45],[91,46],[90,47.8]]],
['c0',[[47,45],[47.5,46],[48.5,47.5],[46.5,48.5],[47,50.3],[48.7,50.6],[50.8,51.7],[55,50.8],[56.5,51.1],[61,50.8],[61.5,52],[60,52.6],[61,53.9],[65.5,54.6],[69,55.4],[73.5,54],[76.5,54],[77.8,53.3],[80,50.8],[83,51],[85.5,49],[87.3,49.2],[85.5,47],[83,47.2],[82.5,45.5],[80,45],[80.3,42.6],[75,42.9],[71,42.4],[70,41],[68,41],[66,42.9],[62,43.5],[59,42.8],[56,41.3],[55,41.3],[55.4,45.5],[53,45.3],[53.2,46.8],[51.5,47],[49,46.6]]],
['c5',[[56,45],[58.6,45.5],[59,42.8],[62,43.5],[66,42.9],[68,41],[70,41],[71,41.5],[73,40.8],[70.6,40.2],[68.4,38.3],[67,37.4],[64.5,38.9],[62.5,39.5],[61.5,41.2],[60,41.5],[58.5,42.7],[56,41.3]]],
['c0',[[52.5,41.8],[53,40],[53.8,38.5],[53.9,37.3],[56,37.8],[59,37.5],[61,36.6],[62.5,35.3],[64.5,36.4],[66.5,37.4],[67,37.4],[64.5,38.9],[62.5,39.5],[61.5,41.2],[60,41.5],[58.5,42.7],[56,41.3],[55,41.3],[54,42]]],
['c1',[[70.6,40.2],[73,40.8],[71,42.4],[75,42.9],[80.3,42.6],[78,41],[74,39.5],[73.5,39.4],[71,39.6],[69.3,40]]],
['c5',[[68.4,38.3],[70.6,40.2],[69.3,40],[71,39.6],[73.5,39.4],[75,37.3],[73,36.9],[71.5,37],[70.5,38],[68.4,37.1],[67.8,37.2]]],
['c3',[[61,36.6],[62.5,35.3],[64.5,36.4],[66.5,37.4],[67.8,37.2],[68.4,37.1],[70.5,38],[71.5,37],[73,36.9],[74.8,37.2],[71.5,36],[71.2,34.7],[70,34],[69.3,31.9],[66.5,31],[66.3,29.9],[62.5,29.4],[60.9,29.9],[61,31.5],[60.8,34.4]]],
['c4',[[60.9,29.9],[62.5,29.4],[66.3,29.9],[66.5,31],[69.3,31.9],[70,34],[71.2,34.7],[71.5,36],[74.8,37.2],[75.8,36.7],[77.8,35.5],[76.5,34.5],[74.5,33],[75.3,32.3],[74.5,31],[74,30],[71.9,27.8],[70.2,27.9],[69.5,26.6],[70.7,25.7],[71,24.4],[68.8,24.3],[68.2,23.7],[67.3,24.5],[66.7,25.3],[64,25.3],[61.5,25.1],[61.8,26],[63.3,27],[62,29.5]]],
['c6',[[68.2,23.7],[68.8,24.3],[71,24.4],[70.7,25.7],[69.5,26.6],[70.2,27.9],[71.9,27.8],[74,30],[74.5,31],[75.3,32.3],[74.5,33],[76.5,34.5],[77.8,35.5],[80,35.5],[79,33],[78.8,31],[81,30.2],[84,28],[88,27.1],[88.1,27.9],[89,26.9],[92,27],[94,27.7],[96,29.4],[97.3,28],[96,27.2],[95.2,26],[94.6,25],[93.5,24],[92.4,22.8],[91.8,23.6],[91.2,23.7],[92.2,25],[89.9,25.3],[88.8,26.2],[88,25.2],[88.5,24],[88.9,22],[86.9,21],[86.5,20],[84.5,18.5],[82.3,16.6],[80.3,15.6],[80,13],[79.9,10.3],[78,8.5],[77.5,8.1],[76.5,9],[75.5,11.7],[74.5,14.5],[73.3,17],[72.8,19.5],[72.6,21.4],[70.5,20.9],[69,22.4],[70.2,22.8]]],
['c4',[[80.1,28.8],[81.2,30.2],[83,29.3],[86,28],[88.1,27.9],[88,26.4],[85,26.6],[82,27.4],[80.1,28.6]]],
['c5',[[89,26.9],[92,27],[92,27.9],[89.5,28.2]]],
['c6',[[88,25.2],[88.8,26.2],[89.9,25.3],[92.2,25],[91.2,23.7],[92.4,22.8],[92.2,21],[91.8,22.4],[90.5,22],[89,21.8],[88.9,22],[88.5,24]]],
['c2',[[79.9,6.5],[80,8.5],[80.2,9.8],[81.3,8.5],[81.8,7],[81,6]]],
['c1',[[92.2,21],[92.4,22.8],[93.5,24],[94.6,25],[95.2,26],[96,27.2],[97.3,28],[98.6,27.5],[97.8,25.7],[97.5,24],[98.7,24],[99.5,22],[101,21.5],[100.5,20.3],[98,19],[97.7,17.5],[98.5,15.5],[99.2,13],[98.8,10.5],[98.5,10],[98.6,12.7],[97.6,16.5],[96,16.8],[94.5,16],[94.3,18.8],[93,19.9],[92,21.5]]],
['c2',[[98,19],[100.5,20.3],[101,19.4],[101.3,17.8],[103,18.2],[104.7,17.5],[105.6,15.6],[105,14.2],[103,14.3],[102.5,12.2],[100.9,12.8],[100,13.4],[100,12],[99.2,10],[100.3,8.3],[101,6.9],[100.1,6.4],[98.5,8],[98.3,9],[98.8,10.5],[99.2,13],[98.5,15.5],[97.7,17.5]]],
['c3',[[100.5,20.3],[101,21.5],[101.7,22],[102.2,22.4],[103,21.7],[104.5,20.4],[104,19.2],[105.8,17.7],[107.3,16.2],[107.6,15],[106,13.9],[105.6,15.6],[104.7,17.5],[103,18.2],[101.3,17.8],[101,19.4]]],
['c5',[[102.2,22.4],[103,22.6],[105,23.3],[106.7,22.8],[108.5,21.6],[106.7,20.5],[105.7,19],[106.6,17.5],[108.8,15.4],[109.3,13],[109,11.5],[107,10.4],[105,8.7],[104.8,10.2],[106,11],[107.5,12.3],[107.6,15],[107.3,16.2],[105.8,17.7],[104,19.2],[104.5,20.4],[103,21.7]]],
['c4',[[102.5,12.2],[103,14.3],[105,14.2],[106,13.9],[107.6,15],[107.5,12.3],[106,11],[104.8,10.2],[103.5,10.6]]],
['c1',[[100.1,6.4],[101,6.9],[102.2,6.2],[103.4,4.5],[103.5,2.8],[104.2,1.4],[103.5,1.3],[101.3,2.8],[100.3,5]]],
['c5',[[95.3,5.6],[97.5,5.2],[100.3,2.2],[103,0.5],[104,-1],[106,-3],[106,-5.8],[104.5,-5.9],[102,-4],[100.4,-1],[98.7,1.7],[95.9,3.7]]],
['c5',[[105.2,-6.8],[106,-6],[108.5,-6.4],[111,-6.5],[114.5,-7.7],[114.5,-8.7],[110,-8.1],[106.5,-7.4]]],
['c5',[[109,1.6],[110,1.6],[111.5,1],[113,1.2],[114.5,1.5],[115.5,4],[117.6,4.2],[118,1],[117.5,0],[116.5,-1.5],[116.5,-3.5],[114.5,-4],[111,-3.1],[110.2,-2.8],[109.5,-1],[109,0.5]]],
['c1',[[109.6,2],[111,1.5],[113,3.2],[115,4.9],[116,6],[117.3,6.9],[119.2,5.2],[118,4.3],[117.6,4.2],[115.5,4],[114.5,1.5],[113,1.2],[111.5,1],[110,1.6]]],
['c5',[[119.5,-5.5],[120.4,-5.5],[120.5,-2.6],[121.5,-4.6],[122.8,-4.8],[121.5,-1.9],[123,-0.9],[121,-1],[120.5,0.5],[123,0.9],[125,1.5],[124,0.3],[120,0.7],[119.6,-0.5],[118.8,-2.8],[119.5,-3.5]]],
['c5',[[115,-8.3],[119,-8.3],[122,-8.1],[125,-8.2],[125.5,-9.2],[124,-10.2],[119,-9.5],[115,-8.9]]],
['c5',[[127.5,1.8],[128.8,1.2],[128,-0.8],[127.5,0]]],
['c5',[[128,-3.2],[131,-3.5],[130,-3.9],[128,-3.7]]],
['c5',[[131,-1],[132.5,-0.4],[134,-0.9],[135,-3.3],[137.7,-1.5],[141,-2.6],[141,-9.1],[139,-8.1],[138,-8.4],[137.6,-7.4],[138.5,-6.6],[137,-4.9],[135,-4.4],[133.5,-3.9],[132,-2.9],[133.5,-2.2],[132,-2]]],
['c3',[[141,-2.6],[144.5,-3.8],[146,-5.5],[147.8,-6.2],[147.5,-8],[149.5,-9.3],[150.8,-10.3],[148,-10],[146,-8],[144,-7.7],[143,-9],[141,-9.1]]],
['c3',[[148.5,-5.5],[150.5,-5.6],[152,-4.2],[151.5,-5.8],[149,-6.2]]],
['c4',[[120.6,18.5],[122.3,18.4],[122,17],[121.6,15.5],[122,14],[124,13.8],[124,12.5],[122.8,13.2],[121.5,13.8],[120.6,14.4],[120,16]]],
['c4',[[122,7.3],[123.5,7.8],[124,8.2],[125.5,9.7],[126.5,7.5],[126,6.2],[125.4,5.6],[124.2,6.2],[123.2,7.5]]],
['c4',[[122,10],[123,11],[124,11.7],[125.7,11],[125,10],[123,9.1],[122,10.6]]],
['c4',[[117.2,8.4],[118.5,9.5],[119.7,11],[119.3,11.2],[117.5,9]]],
['c4',[[177.3,-17.5],[178.5,-17.3],[178.7,-18.2],[177.5,-18.2]]],
// water
['w',[[28,41.5],[28.5,43.5],[29.7,45.2],[30.8,46.5],[33,46],[32.5,45.4],[33.5,44.5],[36.5,45.2],[38,47],[39.3,47.2],[38,46],[37.5,44.5],[40,43.5],[41.6,41.6],[39.5,41],[37,41.2],[35,42],[33,42],[31,41.2],[29,41.2]]],
['w',[[47,45],[49,46.6],[51.5,47],[53.2,46.8],[53,45.3],[51.3,44.5],[51,43],[52.7,41.8],[53,40],[53.8,38.5],[53.9,37.3],[51,36.8],[49,37.6],[49,38.8],[49.5,40.3],[48.5,41.8],[47.5,43],[47.5,44.5]]],
['w',[[-92,46.7],[-89,48.5],[-85,47],[-84.5,46.5],[-88,46.4]]],
['w',[[-87.8,42],[-86.5,42],[-86,44],[-85,45.8],[-87,46],[-88,44.5]]],
['w',[[-84,46],[-82,45.3],[-81.7,43.3],[-82.5,43],[-84,44],[-81,46]]],
['w',[[-83,42],[-79,42.8],[-79,42.5],[-81,42]]],
['w',[[-79.5,43.3],[-76.5,44],[-76.5,43.3]]]
];
var L=[
[[-123,49],[-95,49],[-95,49.4],[-89.5,48],[-84.5,46.5],[-82.5,45.3],[-82.4,43],[-79,42.9],[-79.5,43.3],[-76.5,44],[-74.7,45],[-71.5,45],[-70,46.7],[-69,47.4],[-67.8,47.1],[-67.8,45.7],[-67,44.8]],
[[-141,69.6],[-141,60.3],[-139,60],[-137,59.2],[-135,59.7],[-133,58],[-130.5,56],[-130,54.7]],
[[-1.8,43.3],[0,42.7],[3.2,42.4]],[[2.5,51],[4,50.3],[6,49.5],[7.5,47.6],[6,46.2],[7,44]],[[6,49.5],[6.2,51.5],[7,53.3]],[[7.5,47.6],[10,47.5],[13,47.5],[13.8,48.7],[12.3,50.3],[15,51],[14.3,53.8]],[[13,47.5],[16.5,47.8],[17,48.8],[19,49.5],[22.8,49.5]],[[14.8,50.9],[18.8,49.5]],[[16.5,47.8],[17,46],[19,44.9]],[[22.2,48.4],[21,46.2],[20.3,46.1]],[[22.5,44.6],[26,43.8],[28.6,43.8]],[[23,41.3],[26,41.6]],[[10,47.5],[6,46.2]],[[12.4,47],[13.7,45.6]],[[23.5,52],[23.3,54.2],[21.5,55.3],[26.6,55.7]],[[21,56.8],[28,56.3]],[[27.3,57.6],[28,59.6]],[[11,58.9],[12,61],[14,64.2],[16.2,68],[19,69],[21,69.1],[29,69.5]],[[24,65.9],[25,68.5],[28,70]],[[28,69],[30,67],[29,63],[31.5,62.5],[28.2,60.5]],
[[19.7,54.4],[22.8,54.3]]
];
var g=document.getElementById('map'),ns='http://www.w3.org/2000/svg';
F.forEach(function(f){var e=document.createElementNS(ns,'path');e.setAttribute('d',path(f[1],true));e.setAttribute('fill',C[f[0]]);
var st=f[0]=='h'?'#c6c6c6':(f[0]=='w'?'#bdbdbd':'#7d8793');e.setAttribute('stroke',st);e.setAttribute('stroke-width',f[0]=='h'?'0.6':'0.45');e.setAttribute('stroke-linejoin','round');g.appendChild(e);});
L.forEach(function(l){var e=document.createElementNS(ns,'path');e.setAttribute('d',path(l,false));e.setAttribute('fill','none');e.setAttribute('stroke','#c6c6c6');e.setAttribute('stroke-width','0.6');g.appendChild(e);});
})();
</script>
</body></html>
